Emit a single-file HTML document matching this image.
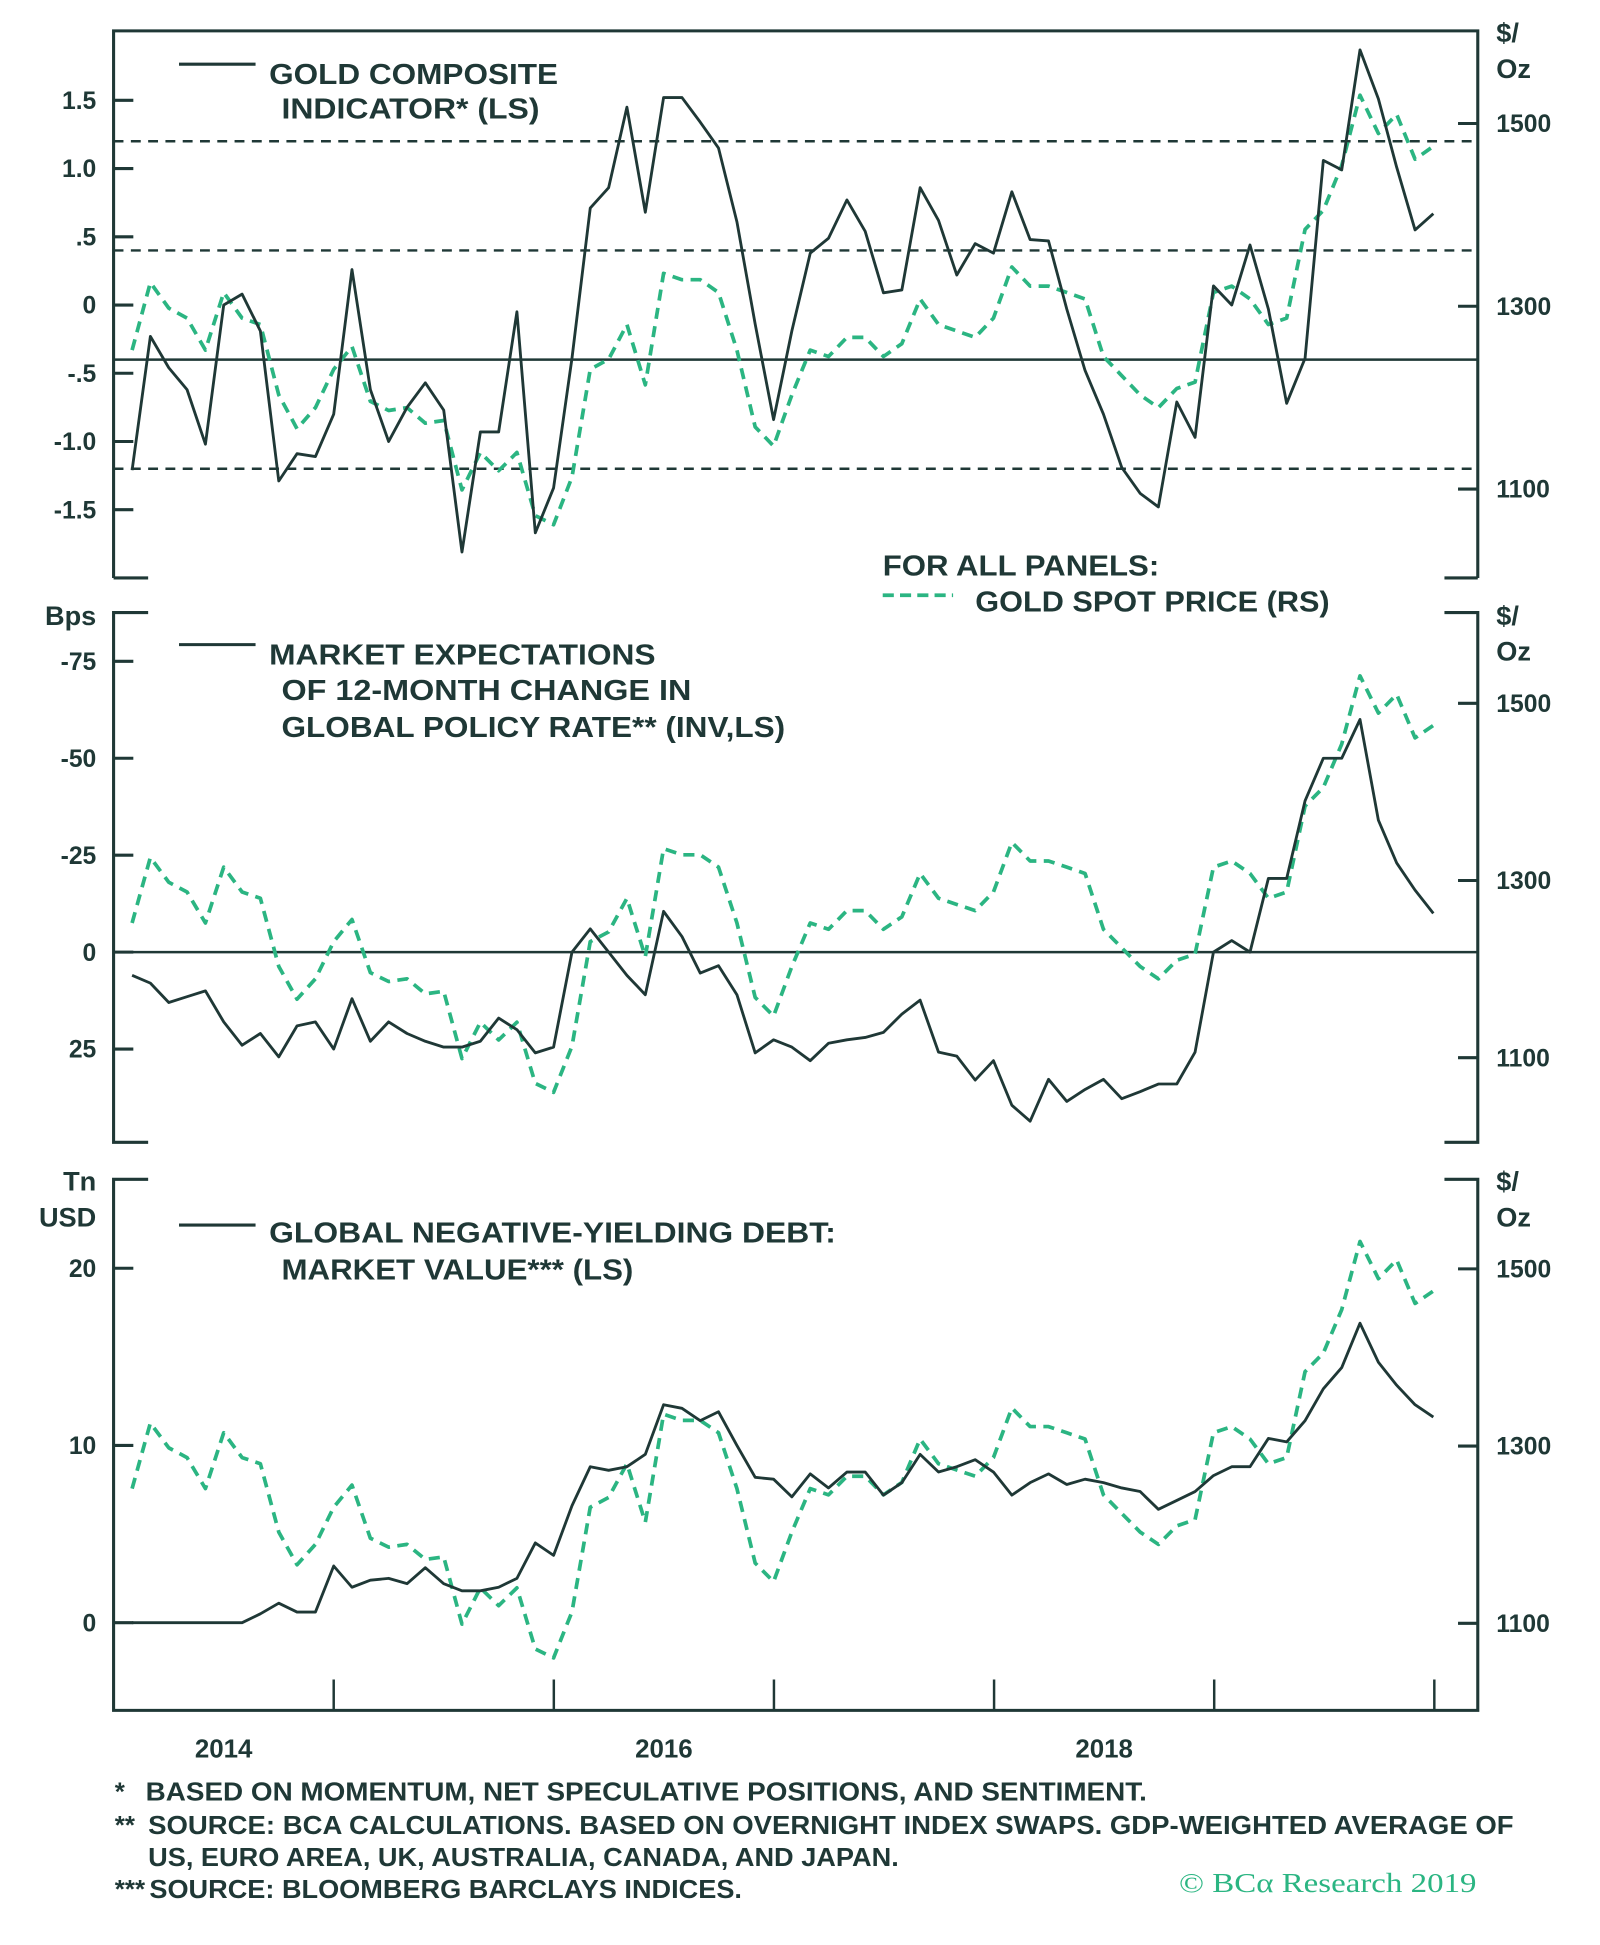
<!DOCTYPE html>
<html><head><meta charset="utf-8">
<style>
html,body{margin:0;padding:0;background:#fff;}
svg{display:block;}
text{font-family:"Liberation Sans",sans-serif;font-weight:bold;fill:#1f3836;}
</style></head>
<body>
<svg id="chart" width="1600" height="1945" viewBox="0 0 1296 1575" preserveAspectRatio="none" xmlns="http://www.w3.org/2000/svg">
<g id="static" stroke="#1f3836" fill="none" stroke-width="2.5">
  <!-- panel 1 frame -->
  <path d="M92,468 V25 H1197 V468 M92,468 H120 M1170,468 H1197"/>
  <!-- panel 2 frame -->
  <path d="M120,496 H92 V925 H120 M1170,496 H1197 V925 H1170"/>
  <!-- panel 3 frame -->
  <path d="M120,955 H92 V1385 H1197 V955 H1170"/>
</g>
<g id="labels">
  <text x="218" y="68" font-size="23" textLength="234" lengthAdjust="spacingAndGlyphs">GOLD COMPOSITE</text>
  <text x="228" y="96" font-size="23" textLength="209" lengthAdjust="spacingAndGlyphs">INDICATOR* (LS)</text>
  <text x="1212" y="34" font-size="22">$/</text>
  <text x="1212" y="63" font-size="22">Oz</text>
  <text x="715" y="466" font-size="23" textLength="224" lengthAdjust="spacingAndGlyphs">FOR ALL PANELS:</text>
  <text x="790" y="495" font-size="23" textLength="287" lengthAdjust="spacingAndGlyphs">GOLD SPOT PRICE (RS)</text>
  <text x="78" y="506" font-size="22" text-anchor="end">Bps</text>
  <text x="1212" y="506" font-size="22">$/</text>
  <text x="1212" y="535" font-size="22">Oz</text>
  <text x="218" y="538" font-size="23" textLength="313" lengthAdjust="spacingAndGlyphs">MARKET EXPECTATIONS</text>
  <text x="228" y="567" font-size="23" textLength="332" lengthAdjust="spacingAndGlyphs">OF 12-MONTH CHANGE IN</text>
  <text x="228" y="597" font-size="23" textLength="408" lengthAdjust="spacingAndGlyphs">GLOBAL POLICY RATE** (INV,LS)</text>
  <text x="78" y="964" font-size="22" text-anchor="end">Tn</text>
  <text x="78" y="993" font-size="22" text-anchor="end">USD</text>
  <text x="1212" y="964" font-size="22">$/</text>
  <text x="1212" y="993" font-size="22">Oz</text>
  <text x="218" y="1006" font-size="23" textLength="459" lengthAdjust="spacingAndGlyphs">GLOBAL NEGATIVE-YIELDING DEBT:</text>
  <text x="228" y="1036" font-size="23" textLength="285" lengthAdjust="spacingAndGlyphs">MARKET VALUE*** (LS)</text>
  <text x="93" y="1458" font-size="21">*</text>
  <text x="118" y="1458" font-size="21" textLength="811" lengthAdjust="spacingAndGlyphs">BASED ON MOMENTUM, NET SPECULATIVE POSITIONS, AND SENTIMENT.</text>
  <text x="93" y="1485" font-size="21">**</text>
  <text x="120" y="1485" font-size="21" textLength="1106" lengthAdjust="spacingAndGlyphs">SOURCE: BCA CALCULATIONS. BASED ON OVERNIGHT INDEX SWAPS. GDP-WEIGHTED AVERAGE OF</text>
  <text x="120" y="1511" font-size="21" textLength="608" lengthAdjust="spacingAndGlyphs">US, EURO AREA, UK, AUSTRALIA, CANADA, AND JAPAN.</text>
  <text x="93" y="1537" font-size="21">***</text>
  <text x="121" y="1537" font-size="21" textLength="480" lengthAdjust="spacingAndGlyphs">SOURCE: BLOOMBERG BARCLAYS INDICES.</text>
  <text x="955" y="1532" font-size="22" style="font-family:'Liberation Serif',serif;font-weight:normal;fill:#2bb582" textLength="241" lengthAdjust="spacingAndGlyphs">© BCα Research 2019</text>
</g>
<g id="dyn"></g>
</svg>
<script>
// ---- data (monthly, Feb 2014 .. Dec 2019) ----
const goldPrice = [1252,1326,1298,1287,1252,1315,1287,1280,1203,1166,
 1189,1231,1256,1196,1186,1189,1172,1175,1099,1140,
 1120,1140,1071,1061,1113,1231,1242,1280,1214,1336,
 1329,1329,1315,1252,1168,1147,1203,1252,1245,1266,
 1266,1245,1259,1308,1280,1273,1266,1287,1343,1322,
 1322,1315,1308,1245,1224,1203,1189,1210,1217,1315,
 1322,1308,1280,1287,1384,1405,1454,1531,1489,1510,
 1461,1475];
const compositeIndicator = [-1.21,-0.23,-0.46,-0.62,-1.02,0,0.08,-0.19,-1.29,-1.09,
 -1.11,-0.8,0.26,-0.62,-1.0,-0.75,-0.57,-0.77,-1.81,-0.93,
 -0.93,-0.05,-1.67,-1.34,-0.39,0.71,0.86,1.45,0.68,1.52,
 1.52,1.34,1.15,0.61,-0.14,-0.84,-0.19,0.38,0.49,0.77,
 0.54,0.09,0.11,0.86,0.62,0.22,0.45,0.38,0.83,0.48,
 0.47,-0.03,-0.48,-0.8,-1.19,-1.38,-1.48,-0.71,-0.97,0.14,
 0,0.44,-0.03,-0.72,-0.39,1.06,0.99,1.87,1.51,1.01,
 0.55,0.67];
const policyRateChange = [6,8,13,11.5,10,18,24,21,27,19,
 18,25,12,23,18,21,23,24.5,24.5,23,
 17,20,26,24.5,0,-6,0,6,11,-10.5,
 -4,5.4,3.5,11,26,22.6,24.5,28,23.5,22.6,
 22,20.7,16,12.4,25.8,26.8,33,28,39.5,43.6,
 32.8,38.5,35.4,32.8,37.8,36,34,34,25.8,0,
 -3,0,-19,-19,-39,-50,-50,-60,-34,-23,
 -16,-10];
const negYieldDebt = [0,0,0,0,0,0,0,0.5,1.1,0.6,
 0.6,3.2,2.0,2.4,2.5,2.2,3.1,2.2,1.8,1.8,
 2.0,2.5,4.5,3.8,6.6,8.8,8.6,8.8,9.5,12.3,
 12.1,11.4,11.9,10.0,8.2,8.1,7.1,8.4,7.6,8.5,
 8.5,7.2,7.9,9.5,8.5,8.8,9.2,8.5,7.2,7.9,
 8.4,7.8,8.1,7.9,7.6,7.4,6.4,6.9,7.4,8.3,
 8.8,8.8,10.4,10.2,11.4,13.2,14.4,16.9,14.7,13.4,
 12.3,11.6];
const yearLabels = ["2014","2016","2018"];
const p1LeftTicks = [1.5,1.0,0.5,0,-0.5,-1.0,-1.5];
const p1LeftTickText = ["1.5","1.0",".5","0","-.5","-1.0","-1.5"];
const p1RefLines = [1.2,0.4,-1.2];
const p1SolidLine = [-0.4];
const p2LeftTicks = [-75,-50,-25,0,25];
const p3LeftTicks = [20,10,0];
const goldTicks = [1500,1300,1100];

// ---- axes ----
const NS = "http://www.w3.org/2000/svg";
const dyn = document.getElementById('dyn');
const x = i => 107 + i * (1054 / 71);
const xYear = yr => 92 + (yr - 2014) * 178.3;
const p1L = v => 247 - v * 110.5;
const p1R = g => 248 - (g - 1300) * 0.74;
const p2L = v => 771 + v * 3.14;
const p2R = g => 713 - (g - 1300) * 0.7175;
const p3L = v => 1314 - v * 14.35;
const p3R = g => 1171 - (g - 1300) * 0.7175;

function el(tag, attrs, parent) {
  const e = document.createElementNS(NS, tag);
  for (const k in attrs) e.setAttribute(k, attrs[k]);
  (parent || dyn).appendChild(e);
  return e;
}
function pathFrom(vals, fx, fy) {
  return vals.map((v, i) => (i ? 'L' : 'M') + fx(i).toFixed(1) + ',' + fy(v).toFixed(1)).join(' ');
}
const DARK = '#1f3836', GREEN = '#2bb582';

// panel 1 reference lines
p1RefLines.forEach(v => {
  const l = el('line', {x1: 92, x2: 1197, y1: p1L(v), y2: p1L(v), stroke: DARK, 'stroke-width': 2, 'stroke-dasharray': '8,6'});
  
  
});
p1SolidLine.forEach(v => {
  const l = el('line', {x1: 92, x2: 1197, y1: p1L(v), y2: p1L(v), stroke: DARK, 'stroke-width': 2});
  
  
});
// panel 2 zero line
{
  const l = el('line', {x1: 92, x2: 1197, y1: p2L(0), y2: p2L(0), stroke: DARK, 'stroke-width': 2});
  
  
}

function leftTicks(ticks, texts, fy, name) {
  ticks.forEach((v, i) => {
    const t = el('line', {x1: 92, x2: 108, y1: fy(v), y2: fy(v), stroke: DARK, 'stroke-width': 2.5});
    
    
    const tx = el('text', {x: 78, y: fy(v) + 7, 'font-size': 20, 'text-anchor': 'end'});
    tx.textContent = texts[i];
    
    
  });
}
function rightTicks(fy, name) {
  goldTicks.forEach(g => {
    const t = el('line', {x1: 1181, x2: 1197, y1: fy(g), y2: fy(g), stroke: DARK, 'stroke-width': 2.5});
    
    
    const tx = el('text', {x: 1212, y: fy(g) + 7, 'font-size': 20});
    tx.textContent = String(g);
    
    
  });
}
leftTicks(p1LeftTicks, p1LeftTickText, p1L, 'panel1-left-axis');
leftTicks(p2LeftTicks, p2LeftTicks.map(v => v < 0 ? '-' + (-v) : String(v)), p2L, 'panel2-left-axis');
leftTicks(p3LeftTicks, p3LeftTicks.map(String), p3L, 'panel3-left-axis');
rightTicks(p1R, 'panel1-right-axis');
rightTicks(p2R, 'panel2-right-axis');
rightTicks(p3R, 'panel3-right-axis');

// x axis year ticks
for (let yr = 2015; yr <= 2020; yr++) {
  const t = el('line', {x1: xYear(yr), x2: xYear(yr), y1: 1360, y2: 1385, stroke: DARK, 'stroke-width': 2});
  
  
}
yearLabels.forEach(lbl => {
  const yr = +lbl;
  const tx = el('text', {x: (xYear(yr) + xYear(yr + 1)) / 2, y: 1423, 'font-size': 21, 'text-anchor': 'middle'});
  tx.textContent = lbl;
  
  
});

// legend swatches
[[52, 'panel1-legend-swatch'], [522, 'panel2-legend-swatch'], [992, 'panel3-legend-swatch']].forEach(([y, n]) => {
  const l = el('line', {x1: 145, x2: 207, y1: y, y2: y, stroke: DARK, 'stroke-width': 2.5});
  
  
});
{
  const l = el('line', {x1: 715, x2: 772, y1: 482, y2: 482, stroke: GREEN, 'stroke-width': 3, 'stroke-dasharray': '9,5'});
  
  
}

// series
function series(vals, fy, color, dashed, name) {
  const p = el('path', {d: pathFrom(vals, x, fy), fill: 'none', stroke: color, 'stroke-width': dashed ? 3 : 2.3, 'stroke-linejoin': 'round'});
  if (dashed) p.setAttribute('stroke-dasharray', '9,6');
  
  
}
series(goldPrice, p1R, GREEN, true, 'panel1-gold-price-line');
series(compositeIndicator, p1L, DARK, false, 'gold-composite-indicator-line');
series(goldPrice, p2R, GREEN, true, 'panel2-gold-price-line');
series(policyRateChange, p2L, DARK, false, 'policy-rate-expectations-line');
series(goldPrice, p3R, GREEN, true, 'panel3-gold-price-line');
series(negYieldDebt, p3L, DARK, false, 'negative-yielding-debt-line');
</script>
</body></html>
